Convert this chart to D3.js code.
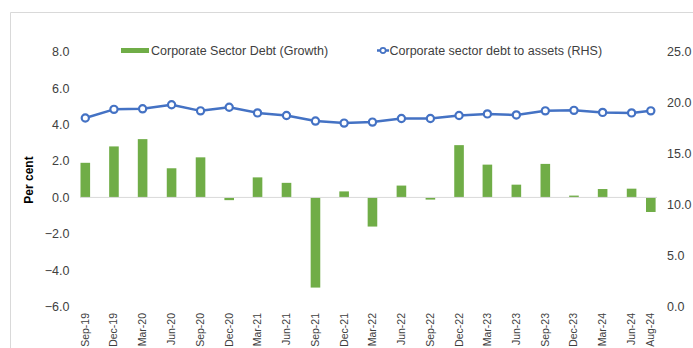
<!DOCTYPE html>
<html>
<head>
<meta charset="utf-8">
<script src="https://cdn.jsdelivr.net/npm/d3@7"></script>
<style>
  html, body { margin: 0; padding: 0; background: #fff; }
  svg { display: block; font-family: "Liberation Sans", Arial, sans-serif; }
</style>
</head>
<body>
<svg id="chart" width="693" height="348"></svg>
<script>
// Quarter-end observation dates (last one is August 2024)
const periods = ["Sep-19","Dec-19","Mar-20","Jun-20","Sep-20","Dec-20","Mar-21","Jun-21",
  "Sep-21","Dec-21","Mar-22","Jun-22","Sep-22","Dec-22","Mar-23","Jun-23","Sep-23",
  "Dec-23","Mar-24","Jun-24","Aug-24"];

// Corporate sector debt growth, per cent (left axis)
const debtGrowth = [1.9, 2.8, 3.2, 1.6, 2.2, -0.15, 1.1, 0.8, -4.95, 0.33, -1.6,
  0.65, -0.12, 2.87, 1.8, 0.7, 1.84, 0.1, 0.46, 0.48, -0.8];

// Corporate sector debt to assets, per cent (right axis)
const debtToAssets = [18.5, 19.35, 19.4, 19.8, 19.2, 19.55, 19.0, 18.75, 18.2, 18.0, 18.1,
  18.45, 18.45, 18.75, 18.9, 18.8, 19.2, 19.25, 19.05, 19.0, 19.2];

const leftTicks = [-6, -4, -2, 0, 2, 4, 6, 8];
const rightTicks = [0, 5, 10, 15, 20, 25];

const seriesNames = ["Corporate Sector Debt (Growth)", "Corporate sector debt to assets (RHS)"];
const axisTitle = "Per cent";

const green = "#70AD47", blue = "#4472C4", textCol = "#404040", frameCol = "#D9D9D9";

const svg = d3.select("#chart");
const parse = d3.timeParse("%b-%y");
const dates = periods.map(parse);

// Time-based x scale so the final two-month step is shorter
const x = d3.scaleTime()
  .domain([dates[0], dates[dates.length - 1]])
  .range([85.3, 650.8]);

const yL = d3.scaleLinear().domain([-6, 8]).range([306.7, 51.7]);
const yR = d3.scaleLinear().domain([0, 25]).range([306.7, 51.7]);

const barW = 9.6;
const tickFont = 12.5;

// frame lines
svg.append("line").attr("x1", 10.5).attr("x2", 10.5).attr("y1", 12.5).attr("y2", 348)
  .attr("stroke", frameCol).attr("stroke-width", 1);
svg.append("line").attr("x1", 10.5).attr("x2", 693).attr("y1", 12.5).attr("y2", 12.5)
  .attr("stroke", frameCol).attr("stroke-width", 1);

// left axis labels
svg.append("g").selectAll("text").data(leftTicks).join("text")
  .attr("x", 69.5).attr("y", d => yL(d)).attr("dy", "0.35em")
  .attr("text-anchor", "end").attr("font-size", tickFont).attr("fill", textCol)
  .text(d => d3.format(".1f")(d));

// right axis labels
svg.append("g").selectAll("text").data(rightTicks).join("text")
  .attr("x", 667).attr("y", d => yR(d)).attr("dy", "0.35em")
  .attr("text-anchor", "start").attr("font-size", tickFont).attr("fill", textCol)
  .text(d => d3.format(".1f")(d));

// axis title
svg.append("text")
  .attr("transform", `translate(33,180) rotate(-90)`)
  .attr("text-anchor", "middle").attr("font-size", 12).attr("font-weight", "bold")
  .attr("fill", "#000").text(axisTitle);

// bars
svg.append("g").selectAll("rect").data(debtGrowth).join("rect")
  .attr("x", (d, i) => x(dates[i]) - barW / 2)
  .attr("width", barW)
  .attr("y", d => Math.min(yL(d), yL(0)))
  .attr("height", d => Math.abs(yL(d) - yL(0)))
  .attr("fill", green);

// zero line
svg.append("line").attr("x1", 80).attr("x2", 657)
  .attr("y1", yL(0)).attr("y2", yL(0))
  .attr("stroke", frameCol).attr("stroke-width", 1);

// debt-to-assets line with markers
const line = d3.line().x((d, i) => x(dates[i])).y(d => yR(d));
svg.append("path").datum(debtToAssets)
  .attr("d", line).attr("fill", "none").attr("stroke", blue)
  .attr("stroke-width", 2.5).attr("stroke-linejoin", "round");
svg.append("g").selectAll("circle").data(debtToAssets).join("circle")
  .attr("cx", (d, i) => x(dates[i])).attr("cy", d => yR(d)).attr("r", 3.6)
  .attr("fill", "#fff").attr("stroke", blue).attr("stroke-width", 2.2);

// x labels, rotated
svg.append("g").selectAll("text").data(periods).join("text")
  .attr("transform", (d, i) => `translate(${x(dates[i]) + 3.5},313) rotate(-90)`)
  .attr("text-anchor", "end").attr("font-size", 10.5).attr("fill", textCol)
  .text(d => d);

// legend
const lg = svg.append("g");
lg.append("rect").attr("x", 121).attr("y", 48).attr("width", 28).attr("height", 5).attr("fill", green);
lg.append("text").attr("x", 151).attr("y", 50.5).attr("dy", "0.35em")
  .attr("font-size", tickFont).attr("fill", textCol).text(seriesNames[0]);
lg.append("line").attr("x1", 377).attr("x2", 389).attr("y1", 50.5).attr("y2", 50.5)
  .attr("stroke", blue).attr("stroke-width", 2.5);
lg.append("circle").attr("cx", 383).attr("cy", 50.5).attr("r", 2.6)
  .attr("fill", "#fff").attr("stroke", blue).attr("stroke-width", 1.6);
lg.append("text").attr("x", 389.5).attr("y", 50.5).attr("dy", "0.35em")
  .attr("font-size", tickFont).attr("fill", textCol).text(seriesNames[1]);
</script>
</body>
</html>
